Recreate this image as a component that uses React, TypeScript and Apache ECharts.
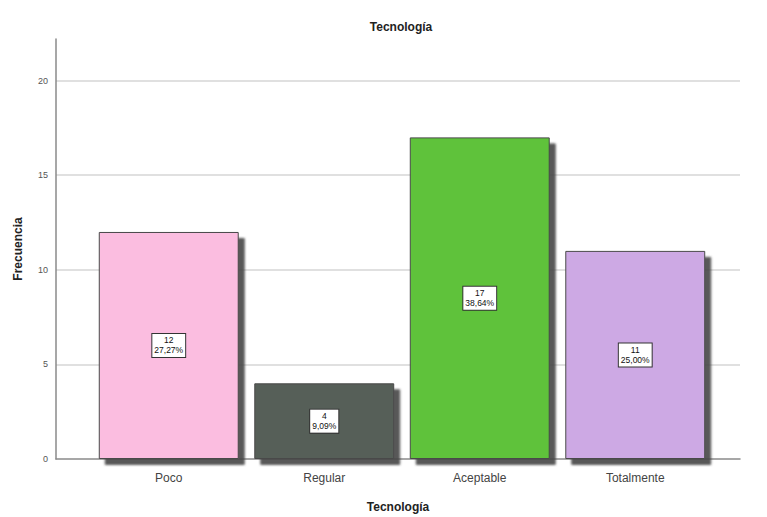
import React, { useEffect, useRef } from "react";
import * as echarts from "echarts";

const categories = ["Poco", "Regular", "Aceptable", "Totalmente"];
const counts = [12, 4, 17, 11];
const percents = ["27,27%", "9,09%", "38,64%", "25,00%"];
const barColors = ["#FBBDE0", "#575E58", "#5EC23A", "#CDA9E4"];
const yTicks = [0, 5, 10, 15, 20];
const Y_MAX = 22.2;

const FONT = "'Liberation Sans', Arial, sans-serif";

export default function App() {
  const ref = useRef<HTMLDivElement>(null);
  useEffect(() => {
    if (!ref.current) return;
    const chart = echarts.init(ref.current, null, { renderer: "svg" });
    const common = { top: 39, bottom: 58, outerBoundsMode: "none", containLabel: false };
    chart.setOption({
      animation: false,
      backgroundColor: "#ffffff",
      textStyle: { fontFamily: FONT },
      title: {
        text: "Tecnología",
        left: 396,
        textAlign: "center",
        top: 16,
        textStyle: { fontSize: 12, fontWeight: "bold", color: "#222", fontFamily: FONT },
      },
      grid: [
        { left: 56, right: 27, ...common },
        { left: 91, right: 54, ...common },
      ],
      xAxis: [
        {
          type: "category",
          gridIndex: 0,
          data: categories,
          axisLine: { show: true, lineStyle: { color: "#8a8a8a", width: 1.5 } },
          axisTick: { show: false },
          axisLabel: { show: false },
          splitLine: { show: false },
          name: "Tecnología",
          nameLocation: "middle",
          nameGap: 42,
          nameTextStyle: { fontSize: 12, fontWeight: "bold", color: "#222", fontFamily: FONT },
        },
        {
          type: "category",
          gridIndex: 1,
          data: categories,
          axisLine: { show: false },
          axisTick: { show: false },
          axisLabel: { fontSize: 12, color: "#444", margin: 13, fontFamily: FONT },
          splitLine: { show: false },
        },
      ],
      yAxis: [
        {
          type: "value",
          gridIndex: 0,
          min: yTicks[0],
          max: Y_MAX,
          interval: 5,
          axisLine: { show: true, lineStyle: { color: "#8a8a8a", width: 1.5 } },
          axisTick: { show: false },
          axisLabel: { fontSize: 9, color: "#555", margin: 8, showMaxLabel: false, fontFamily: FONT },
          splitLine: { show: true, showMinLine: false, showMaxLine: false, lineStyle: { color: "#e0e0e0", width: 2 } },
          name: "Frecuencia",
          nameLocation: "middle",
          nameGap: 32,
          nameTextStyle: { fontSize: 12, fontWeight: "bold", color: "#222", fontFamily: FONT },
        },
        {
          type: "value",
          gridIndex: 1,
          min: 0,
          max: Y_MAX,
          interval: 5,
          axisLine: { show: false },
          axisTick: { show: false },
          axisLabel: { show: false },
          splitLine: { show: false },
        },
      ],
      series: [
        {
          type: "bar",
          xAxisIndex: 1,
          yAxisIndex: 1,
          barCategoryGap: "10%",
          data: counts.map((v, i) => ({
            value: v,
            itemStyle: { color: barColors[i] },
          })),
          itemStyle: {
            borderColor: "#4a4a4a",
            borderWidth: 1,
            shadowColor: "rgba(70,70,70,0.9)",
            shadowOffsetX: 6,
            shadowOffsetY: 6,
            shadowBlur: 2,
          },
          label: {
            show: true,
            position: "inside",
            formatter: (p: any) => `${counts[p.dataIndex]}\n${percents[p.dataIndex]}`,
            fontSize: 8.5,
            lineHeight: 10,
            color: "#111",
            backgroundColor: "#ffffff",
            borderColor: "#333",
            borderWidth: 1,
            padding: [2, 2, 1, 2],
            align: "center",
            fontFamily: FONT,
          },
        },
      ],
    });
    return () => chart.dispose();
  }, []);
  return <div ref={ref} style={{ width: 767, height: 517, position: "absolute", left: 0, top: 0 }} />;
}
